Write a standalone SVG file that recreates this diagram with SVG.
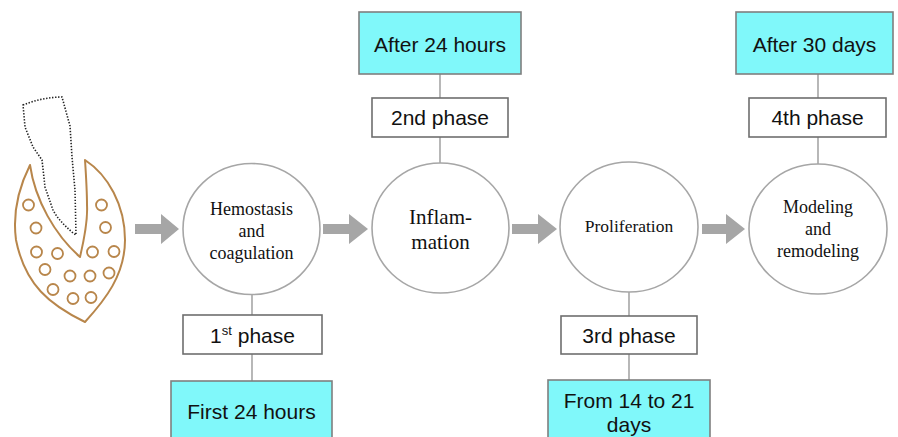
<svg xmlns="http://www.w3.org/2000/svg" width="898" height="437" viewBox="0 0 898 437">
<style>
  .circ { fill: #ffffff; stroke: #a6a6a6; stroke-width: 1.6; }
  .ctext { font-family: "Liberation Serif", "Times New Roman", serif; fill: #111111; text-anchor: middle; }
  .pbox { fill: #ffffff; stroke: #6e6e6e; stroke-width: 1.6; }
  .tbox { fill: #80f8fa; stroke: #7f7f7f; stroke-width: 1.6; }
  .btext { font-family: "Liberation Sans", Arial, sans-serif; font-size: 21px; fill: #111111; text-anchor: middle; }
  .link { stroke: #a6a6a6; stroke-width: 1.6; fill: none; }
  .arrow { fill: #a6a6a6; stroke: none; }
  .bone { fill: none; stroke: #b8864b; stroke-width: 2; stroke-linejoin: round; }
  .tooth { fill: none; stroke: #222222; stroke-width: 1.6; stroke-dasharray: 1.4 1.6; }
</style>

<g id="illustration">
  <path class="tooth" d="M23,105 C35,100 50,97 62,97 L70,126 L72,157 L75,190 L76,235 L73,233 C64,225 57,218 53,210 L45,187 L42,160 L33,147 L25,127 Z"/>
  <path class="bone" d="M30,165 C35,200 55,235 80,257 C84,240 88,222 87,205 C87,190 86,175 85,160 C108,175 125,205 125,240 C125,275 105,300 85,322 C50,305 25,285 16,240 C12,210 20,185 30,165 Z"/>
  <g fill="none" stroke="#b8864b" stroke-width="1.8">
    <circle cx="28.5" cy="205" r="5.5"/>
    <circle cx="101.5" cy="205" r="5.5"/>
    <circle cx="36" cy="228" r="5.5"/>
    <circle cx="105.5" cy="227.5" r="5.5"/>
    <circle cx="36.5" cy="252" r="5.5"/>
    <circle cx="57.5" cy="253.5" r="5.5"/>
    <circle cx="92.5" cy="252" r="5.5"/>
    <circle cx="114" cy="251.5" r="5.5"/>
    <circle cx="45" cy="269.5" r="5.5"/>
    <circle cx="70" cy="276" r="5.5"/>
    <circle cx="90" cy="276" r="5.5"/>
    <circle cx="109" cy="273" r="5.5"/>
    <circle cx="53" cy="289.5" r="5.5"/>
    <circle cx="73" cy="298.5" r="5.5"/>
    <circle cx="91" cy="297.5" r="5.5"/>
  </g>
</g>

<g id="connectors">
  <path class="arrow" d="M135,224 H161 V214 L179,229 L161,244 V234 H135 Z"/>
  <path class="arrow" d="M323,224 H349 V214 L368,229 L349,244 V234 H323 Z"/>
  <path class="arrow" d="M512,224 H538 V214 L557,229 L538,244 V234 H512 Z"/>
  <path class="arrow" d="M702,224 H726 V214 L745,229 L726,244 V234 H702 Z"/>
  <line class="link" x1="252" y1="295" x2="252" y2="315"/>
  <line class="link" x1="252" y1="354" x2="252" y2="381"/>
  <line class="link" x1="440" y1="74" x2="440" y2="98"/>
  <line class="link" x1="440" y1="137" x2="440" y2="163"/>
  <line class="link" x1="629" y1="292" x2="629" y2="316"/>
  <line class="link" x1="629" y1="354" x2="629" y2="380"/>
  <line class="link" x1="818" y1="74" x2="818" y2="98"/>
  <line class="link" x1="818" y1="137" x2="818" y2="164"/>
</g>

<g id="hemostasis">
  <ellipse class="circ" cx="251.5" cy="229" rx="68.5" ry="65.5"/>
  <text class="ctext" font-size="18" x="251.5" y="215">Hemostasis</text>
  <text class="ctext" font-size="18" x="251.5" y="237">and</text>
  <text class="ctext" font-size="18" x="251.5" y="259">coagulation</text>
</g>

<g id="inflammation">
  <ellipse class="circ" cx="440.5" cy="228" rx="68.5" ry="65"/>
  <text class="ctext" font-size="21" x="440.5" y="224">Inflam-</text>
  <text class="ctext" font-size="21" x="440.5" y="249">mation</text>
</g>

<g id="proliferation">
  <ellipse class="circ" cx="629" cy="227" rx="69" ry="65"/>
  <text class="ctext" font-size="17.5" x="629" y="232">Proliferation</text>
</g>

<g id="modeling">
  <ellipse class="circ" cx="818" cy="229" rx="69" ry="65"/>
  <text class="ctext" font-size="18" x="818" y="213">Modeling</text>
  <text class="ctext" font-size="18" x="818" y="235">and</text>
  <text class="ctext" font-size="18" x="818" y="257">remodeling</text>
</g>

<g id="phase1">
  <rect class="pbox" x="183" y="315" width="139" height="39"/>
  <text class="btext" x="252.5" y="343">1<tspan font-size="13" dy="-8">st</tspan><tspan dy="8"> phase</tspan></text>
</g>

<g id="time1">
  <rect class="tbox" x="171" y="381" width="161" height="62"/>
  <text class="btext" x="251.5" y="419">First 24 hours</text>
</g>

<g id="phase2">
  <rect class="pbox" x="372" y="98" width="136" height="39"/>
  <text class="btext" x="440" y="125">2nd phase</text>
</g>

<g id="time2">
  <rect class="tbox" x="359" y="12" width="162" height="62"/>
  <text class="btext" x="440" y="52">After 24 hours</text>
</g>

<g id="phase3">
  <rect class="pbox" x="561" y="316" width="136" height="38"/>
  <text class="btext" x="629" y="343">3rd phase</text>
</g>

<g id="time3">
  <rect class="tbox" x="548" y="380" width="162" height="63"/>
  <text class="btext" x="629" y="408">From 14 to 21</text>
  <text class="btext" x="629" y="432">days</text>
</g>

<g id="phase4">
  <rect class="pbox" x="749" y="98" width="137" height="39"/>
  <text class="btext" x="817.5" y="125">4th phase</text>
</g>

<g id="time4">
  <rect class="tbox" x="736" y="12" width="157" height="62"/>
  <text class="btext" x="814.5" y="52">After 30 days</text>
</g>
</svg>
